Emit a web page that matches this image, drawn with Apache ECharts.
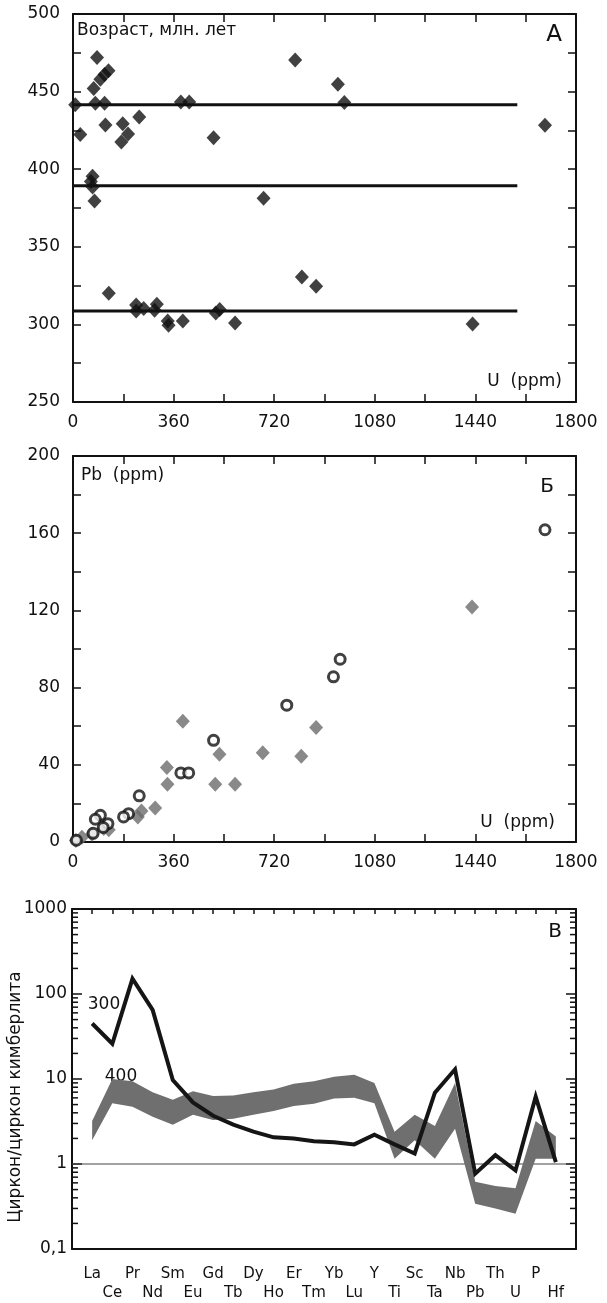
<!DOCTYPE html>
<html>
<head>
<meta charset="utf-8">
<script src="https://cdn.jsdelivr.net/npm/echarts@6/dist/echarts.min.js"></script>
<style>
  html, body { margin: 0; padding: 0; background: #fff; }
  #main { width: 607px; height: 1303px; }
</style>
</head>
<body>
<div id="main"></div>
<script>
// панель А: возраст против U
const ageU  = [8, 26, 86, 74, 98, 113, 127, 80, 113, 116, 178, 173, 197, 237, 70, 64, 70, 77,
               386, 416, 503, 682, 795, 948, 971, 1689, 128, 226, 226, 253, 292, 300, 339, 342,
               393, 511, 525, 580, 819, 870, 1430];
const ageMa = [441.5, 422.4, 472, 452, 458, 461, 463.4, 442.5, 442.5, 428.5, 429.3, 417.5, 422.6, 433.6, 395.5, 392, 388.5, 379.5,
               443.3, 443.3, 420.3, 381.3, 470.3, 454.7, 442.9, 428.3, 320, 312.5, 308.7, 310.2, 309.1, 313, 302.2, 299.5,
               302.2, 307.4, 309.6, 300.9, 330.6, 324.6, 300.3];
const ageLines = [441.5, 389.3, 308.6];
const ageLineEnd = 1590;

// панель Б: Pb против U
const circleU  = [1689, 956, 932, 765, 503, 386, 414, 237, 199, 181, 98, 80, 125, 108, 72, 12];
const circlePb = [161.8, 94.7, 85.6, 70.9, 52.7, 35.8, 35.8, 23.9, 14.7, 13, 13.8, 11.8, 9.5, 7.5, 4.5, 0.9];
const diamondU  = [1428, 870, 817, 679, 524, 509, 580, 393, 336, 338, 294, 245, 232, 128, 110, 68, 32, 10];
const diamondPb = [121.8, 59.3, 44.4, 46.3, 45.5, 29.9, 29.9, 62.6, 38.6, 29.9, 17.6, 16, 13, 6.4, 7, 4, 2.5, 0.8];

// панель В: спектры
const elements = ['La', 'Ce', 'Pr', 'Nd', 'Sm', 'Eu', 'Gd', 'Tb', 'Dy', 'Ho', 'Er', 'Tm', 'Yb', 'Lu',
                  'Y', 'Ti', 'Sc', 'Ta', 'Nb', 'Pb', 'Th', 'U', 'P', 'Hf'];
const line300 = [45, 26, 151, 65, 9.7, 5.3, 3.7, 2.9, 2.4, 2.06, 1.99, 1.85, 1.8, 1.7,
                 2.21, 1.7, 1.33, 6.9, 13, 0.77, 1.27, 0.84, 6.2, 1.05];
const band400Upper = [3.2, 10.0, 9.4, 7.0, 5.7, 7.2, 6.3, 6.4, 7.0, 7.5, 8.8, 9.4, 10.6, 11.2,
                      9.0, 2.4, 3.8, 2.8, 9.0, 0.62, 0.55, 0.52, 3.2, 2.1];
const band400Lower = [1.9, 5.2, 4.7, 3.6, 2.9, 3.8, 3.3, 3.4, 3.8, 4.2, 4.8, 5.1, 5.9, 6.0,
                      5.2, 1.15, 1.9, 1.15, 2.6, 0.34, 0.3, 0.26, 1.15, 1.15];

const FONT = 'DejaVu Sans';
const INK = '#111';

const logMinorTicks = [];
[0.1, 1, 10, 100].forEach(d => {
    for (let k = 2; k <= 9; k++) logMinorTicks.push(d * k);
});

function frameAxis(extra) {
    return Object.assign({
        type: 'value',
        axisLine: { show: true, onZero: false, lineStyle: { color: INK, width: 2 } },
        axisTick: { show: true, inside: true, length: 8, lineStyle: { color: INK, width: 1.5 } },
        splitLine: { show: false },
        axisLabel: { show: false }
    }, extra);
}

function labels(fmt, margin, size) {
    return { show: true, color: INK, fontFamily: FONT, fontSize: size || 17, margin: margin, formatter: fmt };
}

const uLabel = v => (v % 360 === 0 ? String(v) : '');

const chartDom = document.getElementById('main');
const myChart = echarts.init(chartDom, null, { renderer: 'canvas' });

const option = {
    animation: false,
    grid: [
        { left: 73, top: 14, right: 31, bottom: 901 },
        { left: 73, top: 456, right: 31, bottom: 461 },
        { left: 72, top: 909, right: 31, bottom: 46 }
    ],
    xAxis: [
        frameAxis({ gridIndex: 0, position: 'bottom', min: 0, max: 1800, interval: 180, axisLabel: labels(uLabel, 12) }),
        frameAxis({ gridIndex: 0, position: 'top', min: 0, max: 1800, interval: 180 }),
        frameAxis({ gridIndex: 1, position: 'bottom', min: 0, max: 1800, interval: 180, axisLabel: labels(uLabel, 12) }),
        frameAxis({ gridIndex: 1, position: 'top', min: 0, max: 1800, interval: 180 }),
        frameAxis({
            gridIndex: 2, position: 'bottom', min: 0, max: 25, interval: 1,
            axisTick: { show: false },
            axisLabel: Object.assign(labels(v => {
                const i = Math.round(v);
                if (i < 1 || i > elements.length) return '';
                return i % 2 === 1 ? elements[i - 1] : '\n' + elements[i - 1];
            }, 16, 15), { lineHeight: 19 })
        }),
        frameAxis({ gridIndex: 2, position: 'top', min: 0, max: 25, interval: 1,
            axisTick: { show: true, inside: true, length: 5, lineStyle: { color: INK, width: 1.5 } } })
    ],
    yAxis: [
        frameAxis({ gridIndex: 0, position: 'left', min: 250, max: 500, interval: 25,
            axisLabel: labels(v => (v % 50 === 0 ? String(v) : ''), 13) }),
        frameAxis({ gridIndex: 0, position: 'right', min: 250, max: 500, interval: 25 }),
        frameAxis({ gridIndex: 1, position: 'left', min: 0, max: 200, interval: 20,
            axisLabel: labels(v => (v % 40 === 0 ? String(v) : ''), 13) }),
        frameAxis({ gridIndex: 1, position: 'right', min: 0, max: 200, interval: 20 }),
        frameAxis({ gridIndex: 2, position: 'left', type: 'log', logBase: 10, min: 0.1, max: 1000,
            axisTick: { show: true, inside: true, length: 10, lineStyle: { color: INK, width: 1.5 } },
            axisLabel: labels(v => String(v).replace('.', ','), 5) }),
        frameAxis({ gridIndex: 2, position: 'right', type: 'log', logBase: 10, min: 0.1, max: 1000,
            axisTick: { show: true, inside: true, length: 10, lineStyle: { color: INK, width: 1.5 } } })
    ],
    graphic: [
        { type: 'text', x: 77, y: 31, style: { text: 'Возраст, млн. лет', font: '17px "DejaVu Sans"', fill: INK, align: 'left', verticalAlign: 'middle' } },
        { type: 'text', x: 554, y: 35, style: { text: 'А', font: '23px "DejaVu Sans"', fill: INK, align: 'center', verticalAlign: 'middle' } },
        { type: 'text', x: 562, y: 382, style: { text: 'U  (ppm)', font: '17px "DejaVu Sans"', fill: INK, align: 'right', verticalAlign: 'middle' } },
        { type: 'text', x: 81, y: 476, style: { text: 'Pb  (ppm)', font: '17px "DejaVu Sans"', fill: INK, align: 'left', verticalAlign: 'middle' } },
        { type: 'text', x: 547, y: 487, style: { text: 'Б', font: '20px "DejaVu Sans"', fill: INK, align: 'center', verticalAlign: 'middle' } },
        { type: 'text', x: 555, y: 823, style: { text: 'U  (ppm)', font: '17px "DejaVu Sans"', fill: INK, align: 'right', verticalAlign: 'middle' } },
        { type: 'text', x: 555, y: 932, style: { text: 'В', font: '20px "DejaVu Sans"', fill: INK, align: 'center', verticalAlign: 'middle' } },
        { type: 'text', x: 104, y: 1005, style: { text: '300', font: '17px "DejaVu Sans"', fill: INK, align: 'center', verticalAlign: 'middle' } },
        { type: 'text', x: 121, y: 1077, style: { text: '400', font: '17px "DejaVu Sans"', fill: INK, align: 'center', verticalAlign: 'middle' } },
        { type: 'text', x: 16, y: 1097, rotation: Math.PI / 2, style: { text: 'Циркон/циркон кимберлита', font: '17px "DejaVu Sans"', fill: INK, align: 'center', verticalAlign: 'middle' } }
    ],
    series: [
        ...ageLines.map(a => ({
            type: 'line', xAxisIndex: 0, yAxisIndex: 0, z: 2, silent: true,
            symbol: 'none', lineStyle: { color: INK, width: 3 },
            data: [[0, a], [ageLineEnd, a]]
        })),
        {
            type: 'scatter', xAxisIndex: 0, yAxisIndex: 0, z: 3,
            symbol: 'diamond', symbolSize: [14, 15],
            itemStyle: { color: INK },
            data: ageU.map((u, i) => [u, ageMa[i]])
        },
        {
            type: 'scatter', xAxisIndex: 2, yAxisIndex: 2, z: 3,
            symbol: 'diamond', symbolSize: [14, 15],
            itemStyle: { color: '#6b6b6b' },
            data: diamondU.map((u, i) => [u, diamondPb[i]])
        },
        {
            type: 'scatter', xAxisIndex: 2, yAxisIndex: 2, z: 4,
            symbol: 'circle', symbolSize: 10,
            itemStyle: { color: '#fff', borderColor: INK, borderWidth: 3 },
            data: circleU.map((u, i) => [u, circlePb[i]])
        },
        {
            type: 'line', xAxisIndex: 4, yAxisIndex: 4, z: 1, silent: true,
            symbol: 'none', lineStyle: { color: '#444', width: 1 },
            data: [[0, 1], [25, 1]]
        },
        {
            type: 'custom', xAxisIndex: 4, yAxisIndex: 4, z: 2, silent: true,
            data: [[1, 1]],
            renderItem: (params, api) => {
                const pts = [];
                band400Upper.forEach((v, i) => pts.push(api.coord([i + 1, v])));
                for (let i = band400Lower.length - 1; i >= 0; i--) pts.push(api.coord([i + 1, band400Lower[i]]));
                return { type: 'polygon', shape: { points: pts }, style: { fill: '#6f6f6f' } };
            }
        },
        {
            type: 'line', xAxisIndex: 4, yAxisIndex: 4, z: 3,
            symbol: 'none', lineStyle: { color: '#151515', width: 4, join: 'miter' },
            data: line300.map((v, i) => [i + 1, v])
        },
        {
            type: 'custom', xAxisIndex: 4, yAxisIndex: 4, z: 5, silent: true,
            data: logMinorTicks.map(v => [0, v]),
            renderItem: (params, api) => {
                const cs = params.coordSys;
                const y = api.coord([0, api.value(1)])[1];
                const st = { stroke: INK, lineWidth: 1.5 };
                return {
                    type: 'group',
                    children: [
                        { type: 'line', shape: { x1: cs.x, y1: y, x2: cs.x + 6, y2: y }, style: st },
                        { type: 'line', shape: { x1: cs.x + cs.width - 6, y1: y, x2: cs.x + cs.width, y2: y }, style: st }
                    ]
                };
            }
        }
    ]
};

myChart.setOption(option);
</script>
</body>
</html>
